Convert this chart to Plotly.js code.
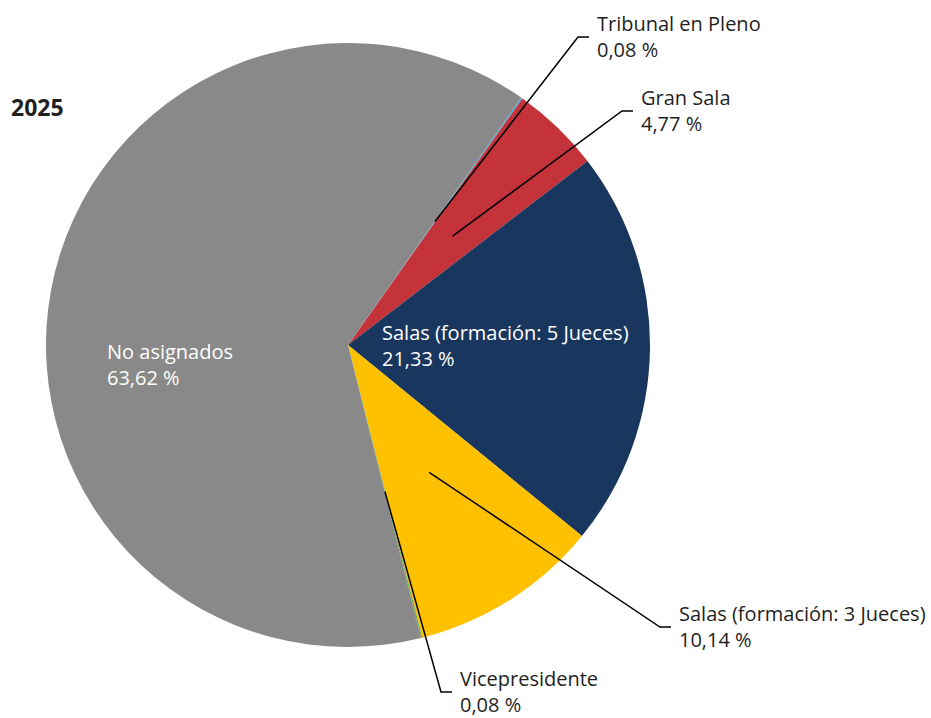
<!DOCTYPE html>
<html>
<head>
<meta charset="utf-8">
<script src="https://cdn.plot.ly/plotly-3.0.1.min.js"></script>
<style>
  body { margin: 0; background: #fff; }
  #chart { width: 931px; height: 718px; }
</style>
</head>
<body>
<div id="chart"></div>
<script>
// datos del grafico (porcentaje de asuntos por formacion, 2025)
var anio = "2025";
var formaciones = [
  "Tribunal en Pleno",
  "Gran Sala",
  "Salas (formación: 5 Jueces)",
  "Salas (formación: 3 Jueces)",
  "Vicepresidente",
  "No asignados"
];
var porcentajes = [0.08, 4.77, 21.33, 10.14, 0.08, 63.62];
var colores = ["#4aa8dc", "#c4323a", "#19365e", "#ffc000", "#70ad47", "#898989"];

// posicion de las etiquetas en pixeles (x del texto, y del centro) y si van dentro
var posEtiquetas = [
  { x: 597, y: 36, dentro: false },
  { x: 641, y: 110, dentro: false },
  { x: 382, y: 345, dentro: true },
  { x: 679, y: 626, dentro: false },
  { x: 460, y: 691, dentro: false },
  { x: 107, y: 364, dentro: true }
];

var W = 931, H = 718;
var centro = { x: 348, y: 345 }, radio = 302;
var rotacion = 35;

function px(x) { return x / W; }
function py(y) { return 1 - y / H; }
function fmt(v) { return v.toFixed(2).replace(".", ",") + " %"; }

var total = porcentajes.reduce((a, b) => a + b, 0);
var annotations = [];
var shapes = [];
var angulo = rotacion;
for (var i = 0; i < formaciones.length; i++) {
  var ang = porcentajes[i] * 360 / total;
  var medio = (angulo + ang / 2) * Math.PI / 180;
  angulo += ang;
  var p = posEtiquetas[i];
  annotations.push({
    xref: "paper", yref: "paper",
    x: px(p.x - 2), y: py(p.y),
    xanchor: "left", yanchor: "middle", align: "left",
    showarrow: false,
    text: formaciones[i] + "<br>" + fmt(porcentajes[i]),
    font: { family: "Open Sans", size: 20, color: p.dentro ? "#ffffff" : "#1f1f1f" }
  });
  if (!p.dentro) {
    //linea guia desde la mitad del radio hasta la etiqueta
    var ax = centro.x + 0.5 * radio * Math.sin(medio);
    var ay = centro.y - 0.5 * radio * Math.cos(medio);
    var codo = p.x - 19, fin = p.x - 8;
    shapes.push({
      type: "path", xref: "paper", yref: "paper",
      path: "M " + px(ax) + "," + py(ay) + " L " + px(codo) + "," + py(p.y + 1) + " L " + px(fin) + "," + py(p.y + 1),
      line: { color: "#000000", width: 1.5 }
    });
  }
}

annotations.push({
  xref: "paper", yref: "paper",
  x: px(9), y: py(107),
  xanchor: "left", yanchor: "middle", showarrow: false,
  text: "<b>" + anio + "</b>",
  font: { family: "Open Sans", size: 23, color: "#1f1f1f" }
});

var trace = {
  type: "pie",
  labels: formaciones,
  values: porcentajes,
  sort: false,
  direction: "clockwise",
  rotation: rotacion,
  textinfo: "none",
  marker: { colors: colores, line: { width: 0 } },
  domain: {
    x: [px(centro.x - radio), px(centro.x + radio)],
    y: [py(centro.y + radio), py(centro.y - radio)]
  },
  hovertemplate: "%{label}<br>%{value:.2f} %<extra></extra>"
};

var layout = {
  width: W, height: H,
  margin: { l: 0, r: 0, t: 0, b: 0 },
  showlegend: false,
  separators: ", ",
  paper_bgcolor: "#ffffff",
  font: { family: "Open Sans" },
  annotations: annotations,
  shapes: shapes
};

Plotly.newPlot("chart", [trace], layout, { displayModeBar: false });
</script>
</body>
</html>
